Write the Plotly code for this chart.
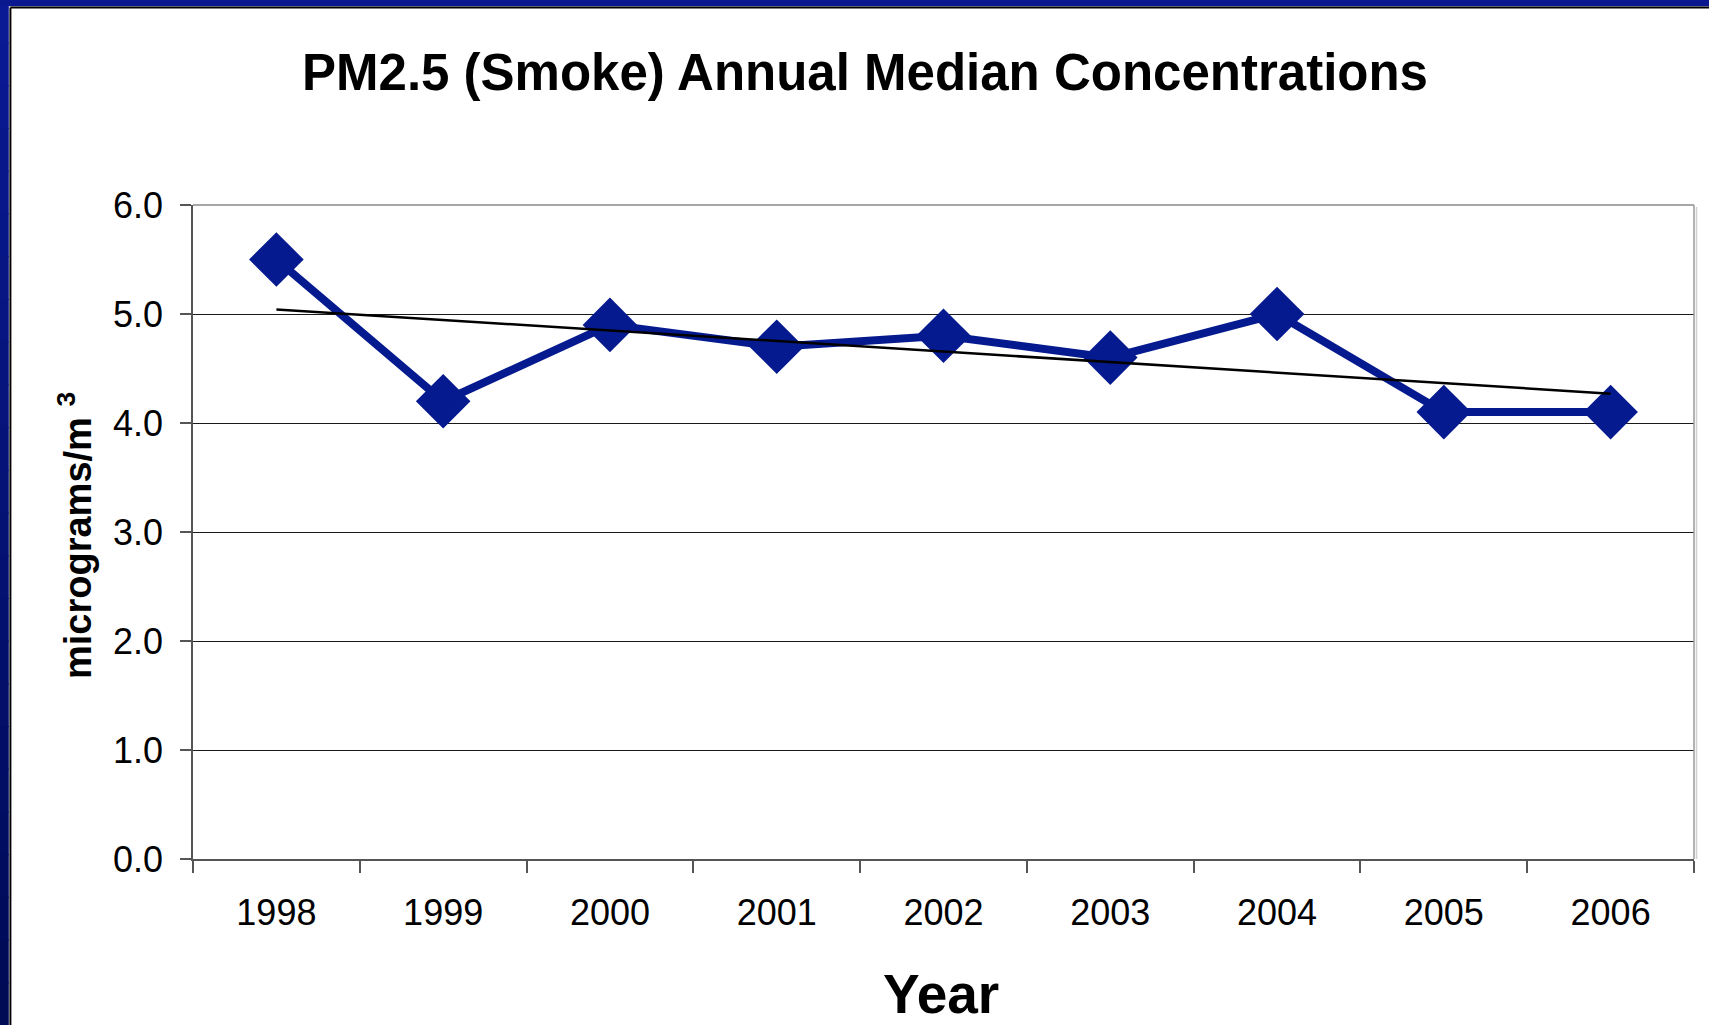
import numpy as np
import plotly.graph_objects as go

# ---- data ----
years = ["1998", "1999", "2000", "2001", "2002", "2003", "2004", "2005", "2006"]
median_pm25 = [5.5, 4.2, 4.9, 4.7, 4.8, 4.6, 5.0, 4.1, 4.1]
y_ticks = [0, 1, 2, 3, 4, 5, 6]

title_text = "PM2.5 (Smoke) Annual Median Concentrations"
x_title = "Year"
y_title = "micrograms/m <sup>3</sup>"

# linear trendline fitted to the data
xi = np.arange(len(years))
slope, intercept = np.polyfit(xi, median_pm25, 1)
trend = (slope * xi + intercept).tolist()

# ---- layout geometry (pixels) ----
FW, FH = 1709, 1025
ML, MR, MT, MB = 193, 15, 205, 166
PW, PH = FW - ML - MR, FH - MT - MB


def px(p):
    return (p - ML) / PW


def py(p):
    return (FH - MB - p) / PH


FONT = "Arial, Liberation Sans, sans-serif"
BLUE = "#061a90"

fig = go.Figure()
fig.add_trace(go.Scatter(
    x=years, y=median_pm25, mode="lines+markers",
    line=dict(color=BLUE, width=8),
    marker=dict(symbol="diamond", size=42, color=BLUE),
    showlegend=False, cliponaxis=False,
))
fig.add_trace(go.Scatter(
    x=years, y=trend, mode="lines",
    line=dict(color="black", width=2.5),
    showlegend=False,
))

shapes = []
# left gradient bar of the slide frame
n = 24
c_top = np.array([0x0a, 0x1a, 0x94])
c_bot = np.array([0x00, 0x0b, 0x56])
for i in range(n):
    t = i / (n - 1)
    c = (c_top * (1 - t) + c_bot * t).astype(int)
    y0p = FH * i / n
    y1p = FH * (i + 1) / n + 1
    shapes.append(dict(type="rect", xref="paper", yref="paper",
                       x0=px(0), x1=px(8.8), y0=py(y1p), y1=py(y0p),
                       fillcolor="rgb(%d,%d,%d)" % tuple(c), line=dict(width=0), layer="above"))
# top bar
shapes.append(dict(type="rect", xref="paper", yref="paper",
                   x0=px(0), x1=px(FW), y0=py(6.3), y1=py(0),
                   fillcolor="#0a1890", line=dict(width=0), layer="above"))
# black frame lines
shapes.append(dict(type="line", xref="paper", yref="paper",
                   x0=px(10.4), x1=px(10.4), y0=py(FH), y1=py(7.6),
                   line=dict(color="black", width=2), layer="above"))
shapes.append(dict(type="line", xref="paper", yref="paper",
                   x0=px(10.4), x1=px(FW), y0=py(7.6), y1=py(7.6),
                   line=dict(color="black", width=2), layer="above"))
# plot-area border (top & right, gray)
shapes.append(dict(type="line", xref="paper", yref="paper",
                   x0=0, x1=1, y0=1, y1=1,
                   line=dict(color="#8a8a8a", width=1.5), layer="above"))
shapes.append(dict(type="line", xref="paper", yref="paper",
                   x0=1, x1=1, y0=0, y1=1,
                   line=dict(color="#9a9a9a", width=1.5), layer="above"))
shapes.append(dict(type="line", xref="paper", yref="paper",
                   x0=px(1696.5), x1=px(1696.5), y0=py(FH - MB), y1=py(MT + 2),
                   line=dict(color="#d0d0d0", width=1.5), layer="above"))

annotations = [
    dict(text=x_title, xref="paper", yref="paper", x=px(941), y=py(994),
         xanchor="center", yanchor="middle", showarrow=False,
         font=dict(family=FONT, size=55, color="black", weight="bold")),
    dict(text=y_title, xref="paper", yref="paper", x=px(75), y=py(536),
         xanchor="center", yanchor="middle", showarrow=False, textangle=-90,
         font=dict(family=FONT, size=38, color="black", weight="bold")),
]

fig.update_layout(
    width=FW, height=FH,
    margin=dict(l=ML, r=MR, t=MT, b=MB, autoexpand=False),
    paper_bgcolor="white", plot_bgcolor="white",
    title=dict(text=title_text, x=865 / FW, y=1 - 72 / FH, xref="container", yref="container",
               xanchor="center", yanchor="middle",
               font=dict(family=FONT, size=51, color="black", weight="bold")),
    shapes=shapes, annotations=annotations,
    font=dict(family=FONT, color="black"),
)
fig.update_xaxes(
    type="category", categoryorder="array", categoryarray=years,
    range=[-0.5, len(years) - 0.5],
    tickson="boundaries", ticks="outside", ticklen=12, tickwidth=1.5, tickcolor="#555555",
    showline=True, linecolor="#555555", linewidth=1.5, showgrid=False,
    tickfont=dict(family=FONT, size=36, color="black"), ticklabelstandoff=21,
)
fig.update_yaxes(
    range=[0, 6], tickvals=y_ticks, tickformat=".1f",
    ticks="outside", ticklen=11, tickwidth=1.5, tickcolor="#555555",
    showline=True, linecolor="#555555", linewidth=1.5,
    showgrid=True, gridcolor="#1a1a1a", gridwidth=1, zeroline=False,
    tickfont=dict(family=FONT, size=36, color="black"), ticklabelstandoff=10,
)

fig.write_html(
    "out.html",
    config={"displayModeBar": False},
    post_script="document.body.style.margin='0';document.body.style.overflow='hidden';",
)
